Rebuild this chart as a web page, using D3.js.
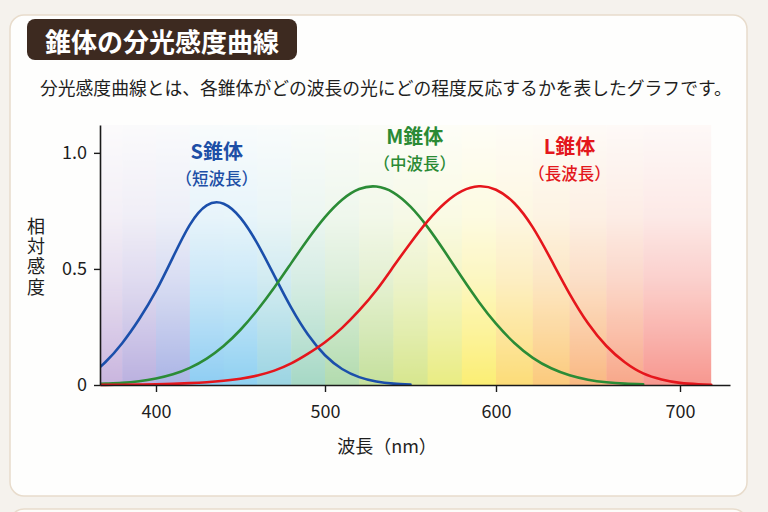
<!DOCTYPE html>
<html><head><meta charset="utf-8">
<script src="https://cdn.jsdelivr.net/npm/d3@7"></script>
<style>
body{margin:0;background:#f5f2ed;}
svg{display:block;font-family:"Noto Sans CJK JP","Noto Sans",sans-serif;}
</style>
</head><body><svg id="c" width="768" height="512"></svg>
<script>
// ---------- data ----------
const title = "錐体の分光感度曲線";
const subtitle = "分光感度曲線とは、各錐体がどの波長の光にどの程度反応するかを表したグラフです。";
const xTitle = "波長（nm）";
const yTitle = "相対感度";

const wavelengths = [360,370,380,390,400,410,420,430,440,450,460,470,480,490,500,510,520,530,540,550,560,570,580,590,600,610,620,630,640,650,660,670,680,690,700,710,717];
const sCone = [0.036,0.098,0.180,0.283,0.405,0.550,0.690,0.774,0.781,0.720,0.609,0.471,0.333,0.216,0.128,0.069,0.034,0.015,0.006,0.002,null,null,null,null,null,null,null,null,null,null,null,null,null,null,null,null,null];
const mCone = [0.003,0.006,0.009,0.016,0.028,0.046,0.074,0.114,0.168,0.238,0.323,0.420,0.525,0.629,0.723,0.798,0.844,0.855,0.829,0.768,0.680,0.575,0.464,0.358,0.264,0.181,0.117,0.072,0.042,0.023,0.012,0.006,0.003,null,null,null,null];
const lCone = [0.0003,0.0006,0.001,0.002,0.003,0.005,0.008,0.012,0.018,0.027,0.041,0.062,0.093,0.135,0.184,0.246,0.321,0.408,0.510,0.612,0.706,0.783,0.835,0.856,0.841,0.783,0.679,0.539,0.393,0.266,0.168,0.098,0.050,0.024,0.009,0.003,0.001];

const coneNames = ["S錐体","M錐体","L錐体"];
const coneSubs = ["（短波長）","（中波長）","（長波長）"];
const coneColors = ["#1b4fab","#2b8c36","#e5161c"];
const coneTextColors = ["#1d4fa6","#2a8a34","#e3171c"];

const xTicks = [400,500,600,700];
const yTicks = [0,0.5,1.0];
const yTickLabels = ["0","0.5","1.0"];

const bandStarts = [367,380,400,420,440,460,480,500,520,540,560,580,600,620,640,660,680];
const bandEnd = 717;
const bandColors = ["#c9b5de","#bab0df","#aab4e5","#8ecdf2","#8fd0f1","#9bd4e2","#a6d8c5","#b2dbae","#c5e09c","#d7e68e","#e9ec83","#fbee74","#fcdc78","#fbca7c","#f9b882","#f8a789","#f7978f"];

// ---------- layout ----------
const svg = d3.select("#c");
const W = 768, H = 512;

// page cards
svg.append("rect").attr("x",10).attr("y",509).attr("width",737).attr("height",40)
  .attr("rx",14).attr("fill","#fdfcfa").attr("stroke","#e8dccc").attr("stroke-width",1.5);
svg.append("rect").attr("x",10).attr("y",15).attr("width",737).attr("height",481)
  .attr("rx",14).attr("fill","#fefefd").attr("stroke","#e8dccc").attr("stroke-width",1.5);

// title badge
svg.append("rect").attr("x",27).attr("y",19).attr("width",270).attr("height",41)
  .attr("rx",8).attr("fill","#3d2a20");
svg.append("text").attr("x",45).attr("y",52).attr("fill","#ffffff")
  .attr("font-size",26).attr("font-weight",700).text(title);
svg.append("text").attr("x",40).attr("y",95).attr("fill","#1e1e1e")
  .attr("font-size",17.8).text(subtitle);

// scales
const x = d3.scaleLinear()
  .domain([366.9,400,500,600,700,727.2])
  .range([100,156,325,496,680,730]);
const y = d3.scaleLinear().domain([0,1.12]).range([385,125]);

const defs = svg.append("defs");
defs.append("clipPath").attr("id","plotclip").append("rect")
  .attr("x",x(366.9)).attr("y",100).attr("width",x(bandEnd)-x(366.9)+2).attr("height",300);

// spectrum background with fading mask
const grad = defs.append("linearGradient").attr("id","fade")
  .attr("gradientUnits","userSpaceOnUse").attr("x1",0).attr("x2",0)
  .attr("y1",y(1.12)).attr("y2",y(0));
[[0,0.05],[0.35,0.2],[0.6,0.45],[0.82,0.75],[1,1]].forEach(([o,v])=>{
  grad.append("stop").attr("offset",o).attr("stop-color","#fff").attr("stop-opacity",v);
});
const mask = defs.append("mask").attr("id","m").attr("maskUnits","userSpaceOnUse")
  .attr("x",0).attr("y",0).attr("width",W).attr("height",H);
mask.append("rect").attr("x",x(bandStarts[0])).attr("y",y(1.12))
  .attr("width",x(bandEnd)-x(bandStarts[0])).attr("height",y(0)-y(1.12))
  .attr("fill","url(#fade)");

const bands = bandStarts.map((s,i)=>({s, e: i<bandStarts.length-1?bandStarts[i+1]:bandEnd, c: bandColors[i]}));
svg.append("g").attr("mask","url(#m)").selectAll("rect").data(bands).join("rect")
  .attr("x",d=>x(d.s)).attr("width",d=>x(d.e)-x(d.s)+0.5)
  .attr("y",y(1.12)).attr("height",y(0)-y(1.12))
  .attr("fill",d=>d.c);

// curves
const series = [sCone,mCone,lCone];
const line = d3.line()
  .defined(d=>d[1]!==null)
  .x(d=>x(d[0])).y(d=>y(d[1]))
  .curve(d3.curveNatural);
const cg = svg.append("g").attr("clip-path","url(#plotclip)");
series.forEach((vals,i)=>{
  const pts = wavelengths.map((w,j)=>[w,vals[j]]);
  cg.append("path").datum(pts).attr("d",line)
    .attr("fill","none").attr("stroke",coneColors[i]).attr("stroke-width",2.6)
    .attr("stroke-linejoin","round").attr("stroke-linecap","round");
});

// axes
const xAxis = svg.append("g").attr("transform",`translate(0,${y(0)})`)
  .call(d3.axisBottom(x).tickValues(xTicks).tickSize(7).tickSizeOuter(0).tickPadding(13).tickFormat(d3.format("d")));
const yAxis = svg.append("g").attr("transform",`translate(${x(366.9)},0)`)
  .call(d3.axisLeft(y).tickValues(yTicks).tickSize(6).tickSizeOuter(0).tickPadding(7)
    .tickFormat((d,i)=>yTickLabels[i]));
[xAxis,yAxis].forEach(g=>{
  g.select(".domain").attr("stroke","#1a1a1a").attr("stroke-width",1.6);
  g.selectAll(".tick line").attr("stroke","#1a1a1a").attr("stroke-width",1.4);
  g.selectAll(".tick text").attr("fill","#1e1e1e").attr("font-size",18)
    .attr("font-family",'"Noto Sans CJK JP","Noto Sans",sans-serif');
});

// axis titles
svg.append("text").attr("x",387).attr("y",452.5).attr("text-anchor","middle")
  .attr("font-size",18).attr("fill","#1e1e1e").text(xTitle);
svg.append("text").attr("x",36).attr("y",217)
  .attr("writing-mode","vertical-rl").attr("text-anchor","start")
  .attr("letter-spacing",2.3)
  .attr("font-size",18).attr("fill","#1e1e1e").text(yTitle);

// cone labels
const labelNm = [436,552.5,640];
const labelVal = [1.005,1.07,1.025];
coneNames.forEach((n,i)=>{
  const cx = x(labelNm[i]), cy = y(labelVal[i]);
  svg.append("text").attr("x",cx).attr("y",cy+7).attr("text-anchor","middle")
    .attr("font-size",20).attr("font-weight",700).attr("fill",coneTextColors[i]).text(n);
  svg.append("text").attr("x",cx).attr("y",cy+33).attr("text-anchor","middle")
    .attr("font-size",16.5).attr("font-weight",500).attr("fill",coneTextColors[i]).text(coneSubs[i]);
});
</script>
</body></html>
